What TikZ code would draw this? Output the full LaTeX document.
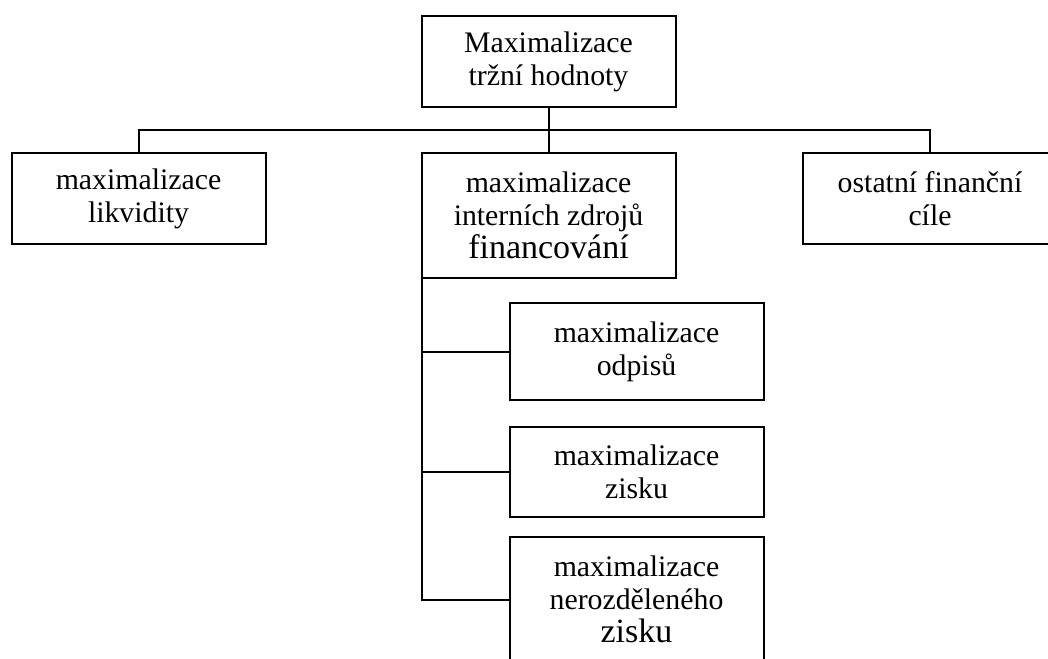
\documentclass[tikz,border=0pt]{standalone}
\usepackage{fontspec}
\setmainfont{Liberation Serif}
\begin{document}
\begin{tikzpicture}[x=1pt,y=-1pt,
  box/.style={draw,line width=2pt,inner sep=0pt,outer sep=0pt,minimum width=254pt,
    align=center,font=\fontsize{29.8}{33}\selectfont},
  conn/.style={line width=2pt}]
\clip (0,0) rectangle (1048,658);
\fill[white] (0,0) rectangle (1048,658);
\node[box,minimum height=91pt] (top) at (548.5,61.5) {Maximalizace\\tržní hodnoty};
\node[box,minimum height=91pt] (left) at (138.5,198.5) {maximalizace\\likvidity};
\node[box,minimum height=125pt] (mid) at (548.5,215.5) {maximalizace\\interních zdrojů\\{\fontsize{34}{36}\selectfont financování}};
\node[box,minimum height=91pt] (right) at (930,198.5) {ostatní finanční\\cíle};
\node[box,minimum height=97pt] (n1) at (636.5,351.5) {maximalizace\\odpisů};
\node[box,minimum height=90pt] (n2) at (636.5,472) {maximalizace\\zisku};
\node[box,minimum height=125pt] (n3) at (636.5,599.5) {maximalizace\\nerozděleného\\{\fontsize{34}{36}\selectfont zisku}};
\coordinate (bus) at (548.5,130);
\draw[conn] (top.south) -- (mid.north);
\draw[conn] (left.north) -- (left.north |- bus) -- (right.north |- bus) -- (right.north);
\draw[conn] (mid.south west) -- (mid.south west |- n3.west) -- (n3.west);
\draw[conn] (mid.south west |- n1.west) -- (n1.west);
\draw[conn] (mid.south west |- n2.west) -- (n2.west);
\end{tikzpicture}
\end{document}
